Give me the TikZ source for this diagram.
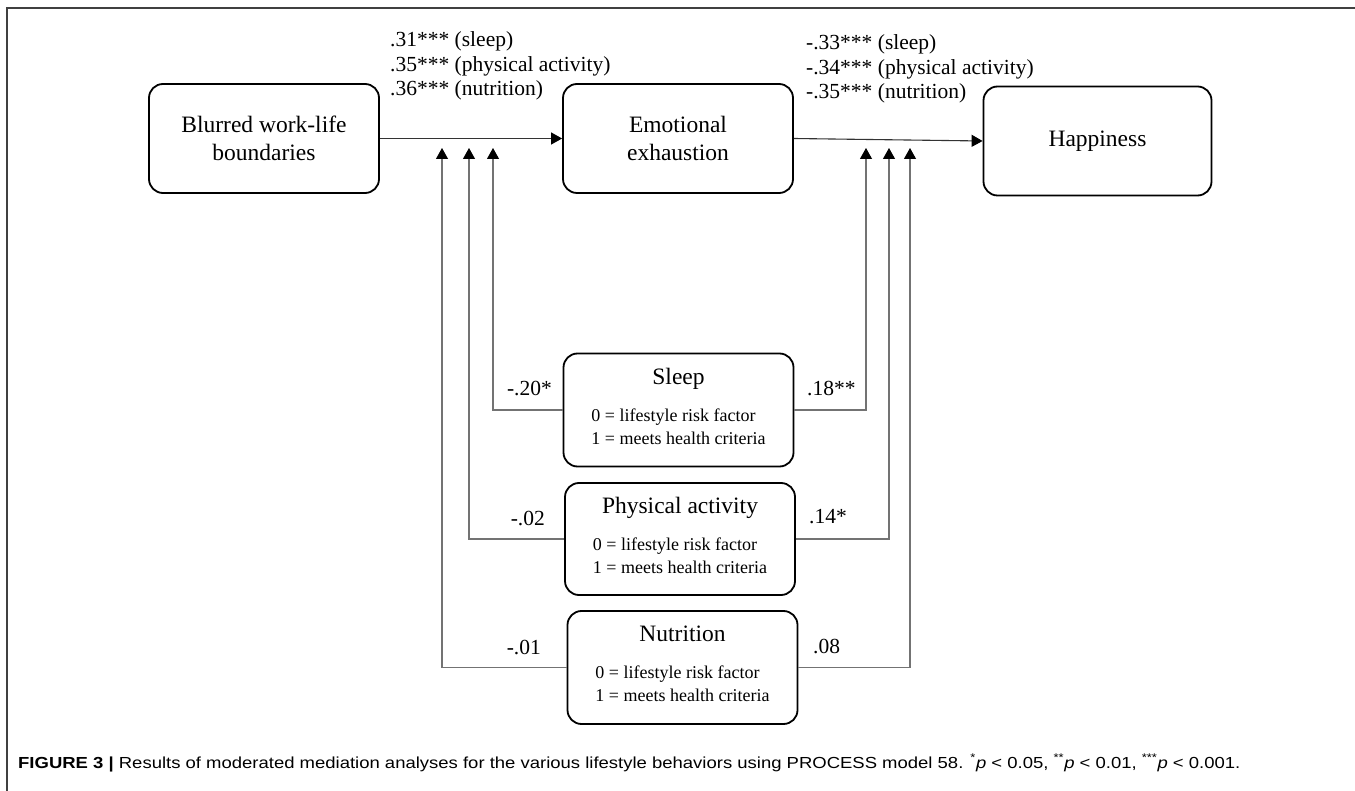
\documentclass[tikz,border=0pt]{standalone}
\usepackage{fontspec}
\setmainfont{Liberation Serif}
\newfontfamily\capfont{Liberation Sans}
\usepackage{graphicx}
\usetikzlibrary{arrows.meta,positioning}
\newcommand{\boxfont}{\fontsize{23.5}{28}\selectfont}
\newcommand{\labfont}{\fontsize{21.5}{24.5}\selectfont}
\newcommand{\critfont}{\fontsize{18}{23}\selectfont}
\newcommand{\modtext}[1]{#1\\[9pt]{\critfont\begin{tabular}[t]{@{}l@{}}0 = lifestyle risk factor\\1 = meets health criteria\end{tabular}}}
\tikzset{
	factor/.style    = {draw, line width=1.8pt, rectangle, rounded corners=14pt,
		align=center, font=\boxfont, minimum width=230pt, minimum height=109pt},
	moderator/.style = {factor, minimum width=230pt, minimum height=113pt},
	coef/.style      = {font=\labfont, inner sep=0pt},
	tip/.style       = {coordinate}, % arrow end
	mainarrow/.style = {draw=black!80, line width=1.1pt,
		-{Triangle[length=11pt,width=12pt,color=black]}},
	modarrow/.style  = {draw=black!55, line width=1.1pt,
		-{Triangle[length=11pt,width=12pt,color=black]}}
}

\begin{document}
\begin{tikzpicture}[x=1pt, y=-1pt]
	\useasboundingbox (0,0) rectangle (1355,791);
	\draw[black!75, line width=1.6pt] (6,8) -- (1355,8);
	\draw[black!75, line width=1.6pt] (7,8) -- (7,791);
	
	\draw
	node at (264,138.5) [factor] (blur) {Blurred work-life\\boundaries}
	node at (678,138.5) [factor] (emo) {Emotional\\exhaustion}
	node at (1097.5,141) [factor, minimum width=228pt] (hap) {Happiness};
	
	\draw
	node at (678.5,410) [moderator] (sleep) {\modtext{Sleep}}
	node at (680,539) [moderator, minimum height=112pt] (phys) {\modtext{Physical activity}}
	node at (682.5,667.5) [moderator] (nutr) {\modtext{Nutrition}};
	
	% path coefficients
	\node[coef, anchor=west, align=left] (ab) at (390,66)
		{.31*** (sleep)\\.35*** (physical activity)\\.36*** (nutrition)};
	\node[coef, anchor=west, align=left] (bc) at (806,69)
		{-.33*** (sleep)\\-.34*** (physical activity)\\-.35*** (nutrition)};
	
	\draw[mainarrow] (blur.east) -- (emo.west);
	\draw[mainarrow] (emo.east) -- (hap.west);
	
	% moderators
	\node[tip] (ls) at (493,148) {};
	\node[tip] (lp) at (469,148) {};
	\node[tip] (ln) at (442,148) {};
	\node[tip] (rs) at (866,148) {};
	\node[tip] (rp) at (889,148) {};
	\node[tip] (rn) at (910,148) {};
	
	\draw[modarrow] (sleep.west) -| (ls);
	\draw[modarrow] (phys.west) -| (lp);
	\draw[modarrow] (nutr.west) -| (ln);
	\draw[modarrow] (sleep.east) -| (rs);
	\draw[modarrow] (phys.east) -| (rp);
	\draw[modarrow] (nutr.east) -| (rn);
	
	\node[coef, anchor=east] (sl) at (552,389) {-.20*};
	\node[coef, anchor=west] (sr) at (807,389) {.18**};
	\node[coef, anchor=east] (pl) at (545,519) {-.02};
	\node[coef, anchor=west] (pr) at (809,517) {.14*};
	\node[coef, anchor=east] (nl) at (541,648) {-.01};
	\node[coef, anchor=west] (nr) at (813,647) {.08};
	
	\node[anchor=base west, inner sep=0pt] (caption) at (18,768)
		{\resizebox{1222pt}{\height}{\capfont\fontsize{16}{18}\selectfont
		\textbf{FIGURE 3 |} Results of moderated mediation analyses for the various lifestyle behaviors using PROCESS model 58. \textsuperscript{*}\textit{p} < 0.05, \textsuperscript{**}\textit{p} < 0.01, \textsuperscript{***}\textit{p} < 0.001.}};
\end{tikzpicture}
\end{document}
